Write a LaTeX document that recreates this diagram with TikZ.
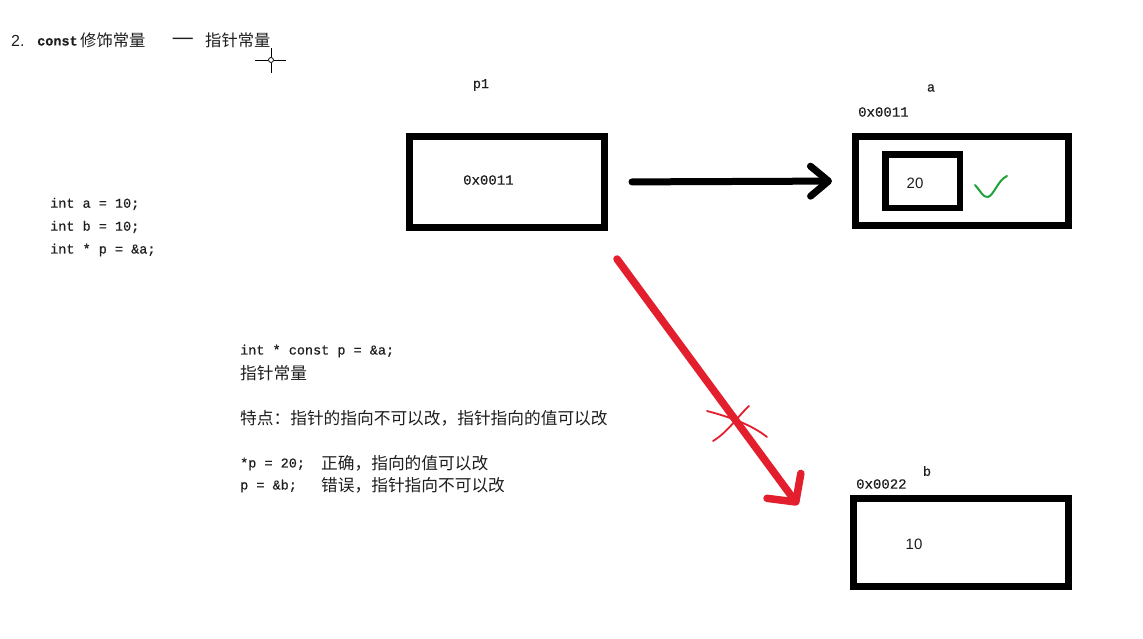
\documentclass[tikz,border=0pt]{standalone}
\usepackage{fontspec}
\setmainfont{Liberation Sans}
\newfontfamily\cjk{Noto Sans CJK SC}
\newfontfamily\code[FakeBold=0.5]{Liberation Mono}
\usetikzlibrary{arrows.meta}
\definecolor{ink}{HTML}{1E1E1E}
\definecolor{redpen}{HTML}{E31E2D}
\definecolor{greenpen}{HTML}{1FA23A}
\begin{document}
\begin{tikzpicture}[x=1pt,y=-1pt,
  every node/.style={inner sep=0pt, text=ink},
  txt/.style={anchor=west},
  codefont/.style={font=\code\fontsize{13.5}{16}\selectfont},
  codebig/.style={font=\code\fontsize{14}{16}\selectfont},
  cjkfont/.style={font=\cjk\fontsize{16.7}{19}\selectfont},
  cjktitle/.style={font=\cjk\fontsize{16.3}{19}\selectfont},
  numfont/.style={font=\fontsize{15}{18}\selectfont},
  membox/.style={draw=black, line width=7pt, text=black},
  pen/.style={line width=2pt, line cap=round, line join=round},
]
\useasboundingbox (0,0) rectangle (1143,638);
\fill[white] (0,0) rectangle (1143,638);

% title
\node[txt, font=\fontsize{16}{18}\selectfont] (t1) at (11,41) {2.};
\node[txt, font=\code\bfseries\fontsize{13.5}{16}\selectfont] (t2) at (37,41) {const};
\node[txt, cjktitle] (t3) at (80,40) {修饰常量};
\node[txt, font=\cjk\bfseries\fontsize{12.5}{16}\selectfont] (t4) at (172,40) {——};
\node[txt, cjktitle] (t5) at (205,40) {指针常量};

% cursor
\coordinate (cur) at (271,60);
\draw[line width=1pt] ([xshift=-16pt]cur) -- ([xshift=-3pt]cur)
  ([xshift=3pt]cur) -- ([xshift=15pt]cur)
  ([yshift=12pt]cur) -- ([yshift=3pt]cur)
  ([yshift=-3pt]cur) -- ([yshift=-13pt]cur);
\draw[line width=0.8pt] (cur) circle (2.5pt);

% left code
\node[txt, codefont] (c1) at (50,204) {int a = 10;};
\node[txt, codefont] (c2) at (50,227) {int b = 10;};
\node[txt, codefont] (c3) at (50,250) {int * p = \&a;};

% memory boxes
\node[codefont] (p1lbl) at (481,85) {p1};
\node[membox, minimum width=195pt, minimum height=91pt] (p1box) at (507,182) {};
\node[txt, codebig] (p1val) at (463,180) {0x0011};

\node[codefont] (albl) at (931,88) {a};
\node[txt, codebig] (aaddr) at (858,112) {0x0011};
\node[membox, minimum width=213pt, minimum height=89pt] (abox) at (962,181) {};
\node[membox, line width=6.5pt, minimum width=74.5pt, minimum height=53.5pt] (ainner) at (922.5,181) {};
\node[numfont] (aval) at (915,183) {20};

\node[codefont] (blbl) at (927,471) {b};
\node[txt, codebig] (baddr) at (856,484) {0x0022};
\node[membox, minimum width=215pt, minimum height=88pt] (bbox) at (961,542.5) {};
\node[numfont] (bval) at (914,544) {10};

% black arrow p1 -> a
\draw[line width=7pt, line cap=round, line join=round,
  -{Straight Barb[length=18pt,width=30pt,round]},
  shorten <=24pt, shorten >=20pt] (p1box.east) -- (abox.west);

% green check
\draw[pen, greenpen] (975,185) .. controls (980,190) and (983,198) .. (988,197)
  .. controls (994,195) and (998,180) .. (1007,176);

% red arrow p1 -> b (crossed)
\coordinate (rs) at (617,259);
\coordinate (re) at (798,505);
\draw[redpen, line width=7.5pt, line cap=round, line join=round,
  -{Straight Barb[length=20pt,width=42pt,round]}] (rs) -- (re);
\draw[pen, redpen, line width=1.8pt] (707,411) .. controls (730,417) and (752,425) .. (767,437);
\draw[pen, redpen, line width=1.8pt] (749,406) .. controls (738,416) and (728,432) .. (713,441);

% explanation text
\node[txt, codefont] (e1) at (240,351) {int * const p = \&a;};
\node[txt, cjkfont] (e2) at (240,373) {指针常量};
\node[txt, cjkfont] (e3) at (240,418) {特点：指针的指向不可以改，指针指向的值可以改};
\node[txt, codefont] (e4) at (240,464) {*p = 20;};
\node[txt, cjkfont] (e5) at (321,463) {正确，指向的值可以改};
\node[txt, codefont] (e6) at (240,486) {p = \&b;};
\node[txt, cjkfont] (e7) at (321,485) {错误，指针指向不可以改};
\end{tikzpicture}
\end{document}
